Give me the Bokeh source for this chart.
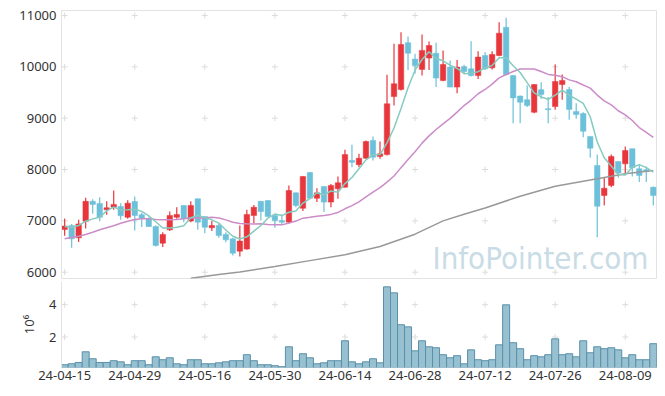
import pandas as pd
from bokeh.plotting import figure
from bokeh.layouts import column
from bokeh.models import Range1d, FixedTicker, Label, ColumnDataSource, Span
from bokeh.embed import file_html
from bokeh.resources import INLINE

# ---- data ----
tick_idx = [0, 10, 20, 30, 40, 50, 60, 70, 80]
tick_labels = ["24-04-15", "24-04-29", "24-05-16", "24-05-30", "24-06-14",
               "24-06-28", "24-07-12", "24-07-26", "24-08-09"]
price_ticks = [6000, 7000, 8000, 9000, 10000, 11000]
volume_ticks = [2, 4]

opens = [6830, 6910, 6670, 6990, 7380, 7340, 7215, 7265, 7280, 7070,
         7375, 7120, 7040, 6890, 6565, 6825, 7070, 7300, 6995, 7430,
         7085, 6865, 6910, 6735, 6650, 6410, 6450, 7105, 7380, 7395,
         7105, 7005, 6975, 7545, 7245, 7940, 7440, 7670, 7365, 7625,
         7655, 8175, 8095, 8220, 8565, 8255, 8290, 9420, 9560, 10470,
         10150, 9950, 10170, 10265, 9735, 9995, 9605, 10005, 9960, 9830,
         10220, 9980, 10220, 10770, 9830, 9430, 9360, 9115, 9555, 9185,
         9225, 9655, 9560, 9130, 9090, 8645, 8080, 7495, 7690, 8155,
         8110, 8405, 8015, 7995, 7655]
highs = [7040, 6940, 7020, 7450, 7420, 7460, 7380, 7590, 7345, 7400,
         7475, 7160, 7070, 6910, 6780, 7180, 7265, 7300, 7380, 7430,
         7085, 6995, 6950, 6780, 6670, 6910, 7215, 7310, 7380, 7400,
         7105, 7125, 7690, 7550, 7870, 7945, 7635, 7670, 7720, 7865,
         8385, 8480, 8305, 8565, 8645, 8545, 9845, 10450, 10675, 10590,
         10255, 10630, 10495, 10470, 10320, 10125, 10135, 10040, 10500, 10305,
         10285, 10305, 10870, 10955, 9830, 9440, 9635, 9660, 9700, 9410,
         10045, 9850, 9605, 9290, 9115, 8650, 8290, 7850, 8290, 8160,
         8450, 8405, 8095, 8060, 7670]
lows = [6710, 6475, 6590, 6850, 7140, 6990, 7120, 7215, 7020, 7040,
        6810, 6880, 6880, 6500, 6490, 6800, 7040, 6975, 6975, 6825,
        6760, 6800, 6670, 6585, 6325, 6305, 6435, 6950, 7005, 7080,
        6865, 6930, 6950, 7265, 7190, 7440, 7365, 7170, 7265, 7430,
        7650, 8045, 8045, 8210, 8175, 8210, 8275, 9245, 9540, 9940,
        9865, 9830, 9940, 9605, 9720, 9600, 9485, 9865, 9810, 9765,
        9940, 9950, 10205, 9830, 8900, 8900, 9215, 9095, 9375, 8900,
        9165, 9360, 8970, 8990, 8630, 8230, 6680, 7300, 7655, 7840,
        7930, 7865, 7755, 7755, 7300]
closes = [6900, 6650, 6940, 7380, 7320, 7070, 7255, 7320, 7100, 7345,
          7105, 7050, 6890, 6520, 6735, 7105, 7125, 7040, 7300, 6975,
          6875, 6910, 6715, 6630, 6370, 6605, 7125, 7265, 7180, 7085,
          7005, 6975, 7590, 7300, 7865, 7440, 7545, 7365, 7690, 7740,
          8290, 8140, 8220, 8545, 8240, 8305, 9280, 9670, 10435, 10265,
          10025, 10320, 10415, 9780, 10045, 9605, 9995, 9910, 9830, 10190,
          9960, 10240, 10655, 9850, 9395, 9310, 9245, 9655, 9460, 9165,
          9715, 9735, 9170, 9070, 8745, 8415, 7285, 7635, 8255, 7930,
          8370, 8035, 7885, 7960, 7495]
volumes = [0.29, 0.35, 0.43, 1.09, 0.66, 0.43, 0.43, 0.54, 0.47, 0.29,
           0.54, 0.54, 0.29, 0.78, 0.60, 0.72, 0.35, 0.29, 0.60, 0.60,
           0.35, 0.35, 0.41, 0.47, 0.54, 0.54, 0.91, 0.54, 0.29, 0.29,
           0.23, 0.17, 1.40, 0.54, 0.97, 0.72, 0.35, 0.41, 0.54, 0.54,
           1.77, 0.47, 0.35, 0.47, 0.66, 0.41, 5.10, 4.73, 2.76, 2.63,
           1.15, 1.77, 1.40, 1.34, 0.91, 0.72, 0.85, 0.35, 1.21, 0.60,
           0.54, 0.60, 1.52, 3.99, 1.65, 1.28, 0.60, 0.85, 0.78, 0.91,
           1.89, 0.91, 0.97, 0.78, 1.77, 1.03, 1.40, 1.28, 1.34, 1.21,
           0.72, 0.91, 0.60, 0.60, 1.59]
# moving-average values whose window reaches before the shown period (read)
ma5_head = [6890, 6877, 6909, 6993]
ma20_head = [6650, 6676, 6701, 6734, 6779, 6825, 6864, 6903, 6954, 6993,
             7026, 7040, 7040, 7026, 7020, 7020, 7026, 7040, 7059]
ma60_idx = [18, 22, 25, 30, 35, 40, 45, 50, 54, 57, 60, 65, 70, 76, 80, 84]
ma60_val = [5880, 5955, 6005, 6110, 6225, 6340, 6500, 6740, 7000, 7130,
            7250, 7480, 7675, 7818, 7916, 7981]

# ---- derived ----
n = len(closes)
idx = list(range(n))
cl = pd.Series(closes, dtype=float)
ma5 = cl.rolling(5).mean().tolist()
ma5[:len(ma5_head)] = ma5_head
ma20 = cl.rolling(20).mean().tolist()
ma20[:len(ma20_head)] = ma20_head

UP = "#e8363d"
DOWN = "#6cc0d9"
colors = [UP if c >= o else DOWN for o, c in zip(opens, closes)]
src = ColumnDataSource(dict(x=idx, o=opens, h=highs, l=lows, c=closes,
                            top=[max(a, b) for a, b in zip(opens, closes)],
                            bot=[min(a, b) for a, b in zip(opens, closes)],
                            col=colors, v=volumes))

FONT = "Noto Sans"
GRID = "#dcdcdc"
EDGE = "#e3e3e3"
xr = Range1d(-0.45, 84.6)


def style_left_axis(ax):
    ax.axis_line_color = EDGE
    ax.major_tick_line_color = None
    ax.minor_tick_line_color = None
    ax.major_tick_out = 0
    ax.major_tick_in = 0
    ax.major_label_text_font = FONT
    ax.major_label_text_font_size = "13px"
    ax.major_label_text_color = "#333333"
    ax.major_label_standoff = 5


p = figure(width=657, height=281, x_range=xr, y_range=Range1d(5877, 11097),
           output_backend="svg", toolbar_location=None, x_axis_location=None,
           min_border_left=61, min_border_right=0, min_border_top=10,
           min_border_bottom=3)
p.grid.visible = False
p.outline_line_color = EDGE
ya = p.yaxis[0]
ya.ticker = FixedTicker(ticks=price_ticks)
style_left_axis(ya)

gx = [x for x in tick_idx for _ in price_ticks]
gy = [y for _ in tick_idx for y in price_ticks]
p.scatter(gx, gy, marker="cross", size=6, line_color=GRID, line_width=1)

wm = Label(x=587, y=3, x_units="screen", y_units="screen", text="InfoPointer.com",
           text_font="DejaVu Sans Condensed, DejaVu Sans, sans-serif",
           text_font_size="31px", text_color="#c9dce6",
           text_align="right", text_baseline="bottom")
p.add_layout(wm)

p.segment(x0="x", y0="h", x1="x", y1="l", color="col", line_width=1.2, source=src)
p.vbar(x="x", width=0.78, top="top", bottom="bot", fill_color="col",
       line_color="col", line_width=0.5, source=src)

p.line(ma60_idx, ma60_val, color="#999999", line_width=1.5)
p.line(idx, ma20, color="#cc8cc8", line_width=1.5)
p.line(idx, ma5, color="#86cbbf", line_width=1.5)

v = figure(width=657, height=114, x_range=xr, y_range=Range1d(0.12, 5.43),
           output_backend="svg", toolbar_location=None,
           min_border_left=61, min_border_right=0, min_border_top=0,
           min_border_bottom=28)
v.grid.visible = False
v.outline_line_color = None
vy = v.yaxis[0]
vy.ticker = FixedTicker(ticks=volume_ticks)
style_left_axis(vy)
vy.axis_label = "10\u2076"
vy.axis_label_text_font = FONT
vy.axis_label_text_font_size = "13px"
vy.axis_label_text_font_style = "normal"
vy.axis_label_text_color = "#333333"
vy.axis_label_standoff = 8
vx = v.xaxis[0]
vx.ticker = FixedTicker(ticks=tick_idx)
vx.major_label_overrides = {i: s for i, s in zip(tick_idx, tick_labels)}
vx.axis_line_color = None
vx.major_tick_line_color = None
vx.minor_tick_line_color = None
vx.major_tick_out = 0
vx.major_tick_in = 0
vx.major_label_text_font = FONT
vx.major_label_text_font_size = "13px"
vx.major_label_text_color = "#333333"
vx.major_label_standoff = 3
v.add_layout(Span(location=xr.end, dimension="height", line_color=EDGE, line_width=1))

vgx = [x for x in tick_idx for _ in volume_ticks]
vgy = [y for _ in tick_idx for y in volume_ticks]
v.scatter(vgx, vgy, marker="cross", size=6, line_color=GRID, line_width=1)
v.vbar(x="x", width=1.0, top="v", bottom=0, fill_color="#97c0d0",
       line_color="#5a90aa", line_width=1, source=src)

layout = column(p, v, spacing=0)
open("out.html", "w").write(file_html(layout, INLINE))
